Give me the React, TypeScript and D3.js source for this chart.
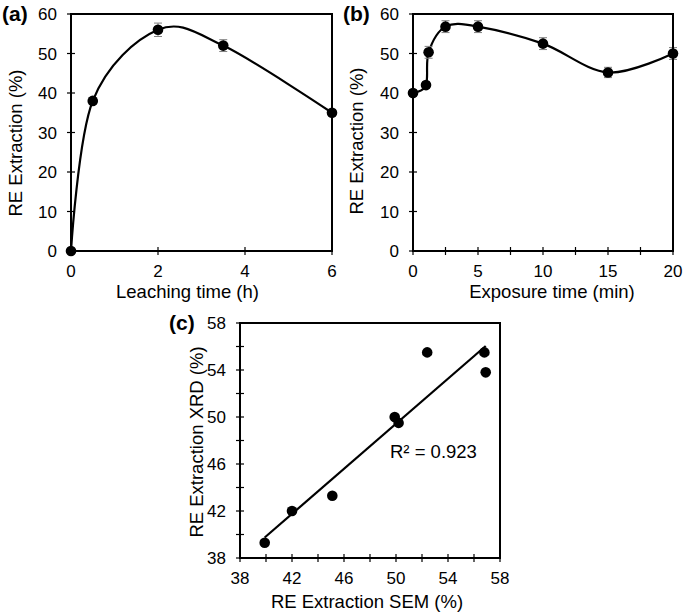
import React from "react";
import * as d3 from "d3";

// ---------- data ----------
const leachTime = [0, 0.5, 2, 3.5, 6];
const leachExtraction = [0, 38, 56, 52, 35];
const leachError = [0, 0.8, 1.7, 1.5, 0.8];

const exposureTime = [0, 1, 1.2, 2.5, 5, 10, 15, 20];
const exposureExtraction = [40, 42, 50.3, 56.8, 56.8, 52.5, 45.2, 50];
const exposureError = [0.8, 0.8, 1.5, 1.5, 1.5, 1.5, 1.3, 1.5];

const semExtraction = [39.9, 42.0, 45.1, 49.9, 50.2, 52.4, 56.8, 56.9];
const xrdExtraction = [39.3, 42.0, 43.3, 50.0, 49.5, 55.5, 55.5, 53.8];
const r2Label = "R\u00B2 = 0.923";

const aXTicks = [0, 2, 4, 6];
const abYTicks = [0, 10, 20, 30, 40, 50, 60];
const bXTicks = [0, 5, 10, 15, 20];
const bXMinor = [2.5, 7.5, 12.5, 17.5];
const cTicks = [38, 42, 46, 50, 54, 58];
const cMinor = [40, 44, 48, 52, 56];

const FONT = "'Liberation Sans', Arial, Helvetica, sans-serif";
const TICK_FS = 17;
const TITLE_FS = 18.5;
const PANEL_FS = 21;
const TL = 4; // half tick length (ticks cross the axis)

type PanelProps = {
  x0: number; x1: number; y0: number; y1: number;
  xDomain: [number, number]; yDomain: [number, number];
  xTicks: number[]; xMinor?: number[]; yTicks: number[]; yMinor?: number[];
  xTitle: string; xTitleX: number; xTitleY: number;
  yTitle: string; yTitleX: number; yTitleY: number;
  label: string; labelX: number; labelY: number;
  children: (sx: d3.ScaleLinear<number, number>, sy: d3.ScaleLinear<number, number>) => React.ReactNode;
};

function Panel(p: PanelProps) {
  const sx = d3.scaleLinear().domain(p.xDomain).range([p.x0, p.x1]);
  const sy = d3.scaleLinear().domain(p.yDomain).range([p.y1, p.y0]);
  const allX = [...p.xTicks, ...(p.xMinor || [])];
  const allY = [...p.yTicks, ...(p.yMinor || [])];
  return (
    <g fontFamily={FONT} fill="#000">
      {allX.map((t, i) => (
        <line key={"xt" + i} x1={sx(t)} x2={sx(t)} y1={p.y1 - TL} y2={p.y1 + TL} stroke="#000" strokeWidth={1.2} />
      ))}
      {allY.map((t, i) => (
        <line key={"yt" + i} x1={p.x0 - TL} x2={p.x0 + TL} y1={sy(t)} y2={sy(t)} stroke="#000" strokeWidth={1.2} />
      ))}
      {p.xTicks.map((t, i) => (
        <text key={"xl" + i} x={sx(t)} y={p.y1 + 26} textAnchor="middle" fontSize={TICK_FS}>{t}</text>
      ))}
      {p.yTicks.map((t, i) => (
        <text key={"yl" + i} x={p.x0 - 14} y={sy(t)} dy="0.36em" textAnchor="end" fontSize={TICK_FS}>{t}</text>
      ))}
      <text x={p.xTitleX} y={p.xTitleY} textAnchor="middle" fontSize={TITLE_FS}>{p.xTitle}</text>
      <text transform={`translate(${p.yTitleX},${p.yTitleY}) rotate(-90)`} textAnchor="middle" fontSize={TITLE_FS}>{p.yTitle}</text>
      <text x={p.labelX} y={p.labelY} fontSize={PANEL_FS} fontWeight="bold">{p.label}</text>
      {p.children(sx, sy)}
      <rect x={p.x0} y={p.y0} width={p.x1 - p.x0} height={p.y1 - p.y0} fill="none" stroke="#000" strokeWidth={2} />
    </g>
  );
}

function SeriesWithErrors({ xs, ys, es, sx, sy }: { xs: number[]; ys: number[]; es: number[]; sx: any; sy: any }) {
  const pts: [number, number][] = xs.map((x, i) => [x, ys[i]]);
  const line = d3.line<[number, number]>().x((d) => sx(d[0])).y((d) => sy(d[1])).curve(d3.curveCardinal.tension(0));
  return (
    <g>
      <path d={line(pts) || ""} fill="none" stroke="#000" strokeWidth={2.2} />
      {pts.map((d, i) => (
        <g key={"e" + i} stroke="#808080" strokeWidth={1}>
          <line x1={sx(d[0])} x2={sx(d[0])} y1={sy(d[1] - es[i])} y2={sy(d[1] + es[i])} />
          <line x1={sx(d[0]) - 4} x2={sx(d[0]) + 4} y1={sy(d[1] - es[i])} y2={sy(d[1] - es[i])} />
          <line x1={sx(d[0]) - 4} x2={sx(d[0]) + 4} y1={sy(d[1] + es[i])} y2={sy(d[1] + es[i])} />
        </g>
      ))}
      {pts.map((d, i) => (
        <circle key={"c" + i} cx={sx(d[0])} cy={sy(d[1])} r={5.3} fill="#000" />
      ))}
    </g>
  );
}

export default function App() {
  // linear regression for panel (c)
  const mx = d3.mean(semExtraction) as number;
  const my = d3.mean(xrdExtraction) as number;
  let sxy = 0, sxx = 0;
  semExtraction.forEach((x, i) => { sxy += (x - mx) * (xrdExtraction[i] - my); sxx += (x - mx) * (x - mx); });
  const slope = sxy / sxx;
  const icpt = my - slope * mx;
  const [xmin, xmax] = d3.extent(semExtraction) as [number, number];

  return (
    <svg width={685} height={614} style={{ position: "absolute", left: 0, top: 0, background: "#fff" }}>
      <rect x={0} y={0} width={685} height={614} fill="#fff" />
      <Panel x0={71} x1={332} y0={14} y1={251} xDomain={[0, 6]} yDomain={[0, 60]}
        xTicks={aXTicks} yTicks={abYTicks}
        xTitle="Leaching time (h)" xTitleX={187.5} xTitleY={298}
        yTitle="RE Extraction (%)" yTitleX={21.5} yTitleY={143}
        label="(a)" labelX={2} labelY={21}>
        {(sx, sy) => <SeriesWithErrors xs={leachTime} ys={leachExtraction} es={leachError} sx={sx} sy={sy} />}
      </Panel>
      <Panel x0={413} x1={673} y0={14} y1={251} xDomain={[0, 20]} yDomain={[0, 60]}
        xTicks={bXTicks} xMinor={bXMinor} yTicks={abYTicks}
        xTitle="Exposure time (min)" xTitleX={552} xTitleY={298}
        yTitle="RE Extraction (%)" yTitleX={363} yTitleY={141}
        label="(b)" labelX={343} labelY={21}>
        {(sx, sy) => <SeriesWithErrors xs={exposureTime} ys={exposureExtraction} es={exposureError} sx={sx} sy={sy} />}
      </Panel>
      <Panel x0={240} x1={500} y0={323} y1={558} xDomain={[38, 58]} yDomain={[38, 58]}
        xTicks={cTicks} xMinor={cMinor} yTicks={cTicks} yMinor={cMinor}
        xTitle="RE Extraction SEM (%)" xTitleX={367} xTitleY={608}
        yTitle="RE Extraction XRD (%)" yTitleX={203} yTitleY={442}
        label="(c)" labelX={169} labelY={330}>
        {(sx, sy) => (
          <g>
            <line x1={sx(xmin)} y1={sy(slope * xmin + icpt)} x2={sx(xmax)} y2={sy(slope * xmax + icpt)} stroke="#000" strokeWidth={2.2} />
            {semExtraction.map((x, i) => (
              <circle key={i} cx={sx(x)} cy={sy(xrdExtraction[i])} r={5.3} fill="#000" />
            ))}
            <text x={390} y={458} fontSize={TITLE_FS}>{r2Label}</text>
          </g>
        )}
      </Panel>
    </svg>
  );
}
